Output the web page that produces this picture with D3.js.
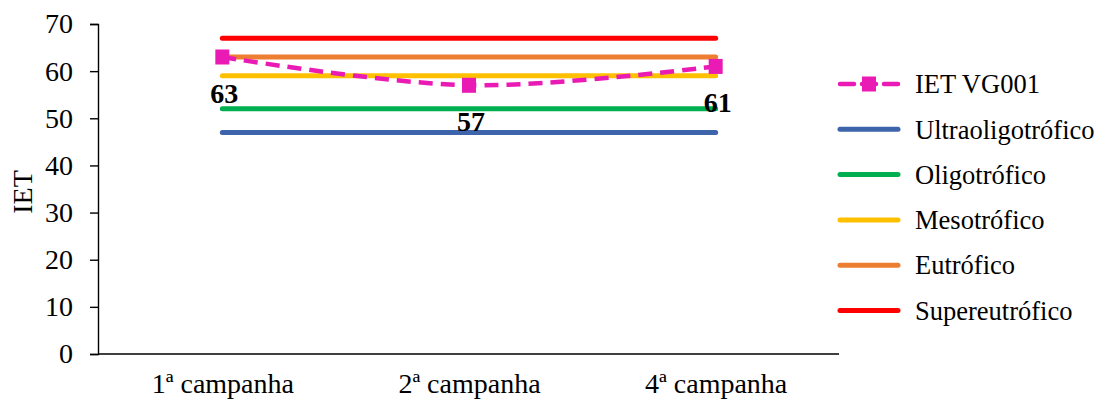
<!DOCTYPE html>
<html>
<head>
<meta charset="utf-8">
<script src="https://cdn.jsdelivr.net/npm/d3@7"></script>
<style>
  html, body { margin: 0; padding: 0; background: #fff; }
  svg { display: block; font-family: "Liberation Serif", "Times New Roman", serif; }
</style>
</head>
<body>
<svg id="chart" width="1098" height="405"></svg>
<script>
// Campaigns on the x axis
const categories = ["1ª campanha", "2ª campanha", "4ª campanha"];
// Trophic state index measured at station VG001
const ietValues = [63, 57, 61];
// Trophic class thresholds (constant across campaigns)
const classNames = ["Ultraoligotrófico", "Oligotrófico", "Mesotrófico", "Eutrófico", "Supereutrófico"];
const classValues = [47, 52, 59, 63, 67];
const classColors = ["#3E64AC", "#00B050", "#FFC000", "#ED7D31", "#FF0000"];
const yTicks = [0, 10, 20, 30, 40, 50, 60, 70];

const FONT = "Liberation Serif, Times New Roman, serif";
const svg = d3.select("#chart");
const plot = { left: 98, right: 839, top: 24, bottom: 354 };

const x = d3.scalePoint().domain(categories).range([plot.left + 1, plot.right]).padding(0.5);
const y = d3.scaleLinear().domain([0, 70]).range([plot.bottom, plot.top]);

// Y axis
const yAxis = svg.append("g")
  .attr("transform", `translate(${plot.left},0)`)
  .call(d3.axisLeft(y).tickValues(yTicks).tickSize(8).tickPadding(17));
yAxis.select(".domain").attr("stroke", "#000").attr("stroke-width", 1.4);
yAxis.selectAll(".tick line").attr("stroke", "#000").attr("stroke-width", 1.4);
yAxis.selectAll(".tick text")
  .attr("font-family", FONT)
  .attr("font-size", 28).attr("fill", "#000");

// X axis (baseline, no ticks)
const xAxis = svg.append("g")
  .attr("transform", `translate(0,${plot.bottom})`)
  .call(d3.axisBottom(x).tickSize(0));
xAxis.select(".domain").attr("d", `M${plot.left},0H${plot.right}`).attr("stroke", "#000").attr("stroke-width", 1.4);
xAxis.selectAll(".tick text")
  .attr("y", 39).attr("dy", 0)
  .attr("font-family", FONT)
  .attr("font-size", 28).attr("fill", "#000");

// Y axis title
svg.append("text")
  .attr("transform", `translate(22,${(plot.top + plot.bottom) / 2 + 3}) rotate(-90)`)
  .attr("text-anchor", "middle")
  .attr("dy", "0.35em")
  .attr("font-size", 28)
  .text("IET");

// Threshold lines
const flatLine = d3.line().x(d => x(d[0])).y(d => y(d[1]));
classValues.forEach((v, i) => {
  svg.append("path")
    .attr("d", flatLine(categories.map(c => [c, v])))
    .attr("fill", "none")
    .attr("stroke", classColors[i])
    .attr("stroke-width", 5)
    .attr("stroke-linecap", "round");
});

// IET series: smoothed dashed line with square markers
const ietColor = "#E91BB4";
const smooth = d3.line().x(d => x(d[0])).y(d => y(d[1])).curve(d3.curveCatmullRom.alpha(0.5));
const ietPoints = categories.map((c, i) => [c, ietValues[i]]);
svg.append("path")
  .attr("d", smooth(ietPoints))
  .attr("fill", "none")
  .attr("stroke", ietColor)
  .attr("stroke-width", 4.5)
  .attr("stroke-dasharray", "14,8");
svg.selectAll(".marker").data(ietPoints).join("rect")
  .attr("class", "marker")
  .attr("x", d => x(d[0]) - 7)
  .attr("y", d => y(d[1]) - 7.5)
  .attr("width", 14).attr("height", 15)
  .attr("fill", ietColor);

// Value labels below each point
svg.selectAll(".vlabel").data(ietPoints).join("text")
  .attr("class", "vlabel")
  .attr("x", d => x(d[0]) + 2)
  .attr("y", d => y(d[1]) + 46)
  .attr("text-anchor", "middle")
  .attr("font-size", 28)
  .attr("font-weight", "bold")
  .text(d => d[1]);

// Legend
const legend = svg.append("g").attr("transform", "translate(838,84)");
const rowGap = 45.3;
// IET entry
legend.append("line").attr("x1", 2).attr("x2", 60).attr("y1", 0).attr("y2", 0)
  .attr("stroke", ietColor).attr("stroke-width", 4.5).attr("stroke-dasharray", "14,8")
  .attr("stroke-linecap", "round");
legend.append("rect").attr("x", 24).attr("y", -7.5).attr("width", 14).attr("height", 15).attr("fill", ietColor);
legend.append("text").attr("x", 77).attr("y", 0).attr("dy", "0.35em").attr("font-size", 26.5).text("IET VG001");
classNames.forEach((name, i) => {
  const gy = (i + 1) * rowGap;
  legend.append("line").attr("x1", 2).attr("x2", 60).attr("y1", gy).attr("y2", gy)
    .attr("stroke", classColors[i]).attr("stroke-width", 5).attr("stroke-linecap", "round");
  legend.append("text").attr("x", 77).attr("y", gy).attr("dy", "0.35em").attr("font-size", 26.5).text(name);
});
</script>
</body>
</html>
